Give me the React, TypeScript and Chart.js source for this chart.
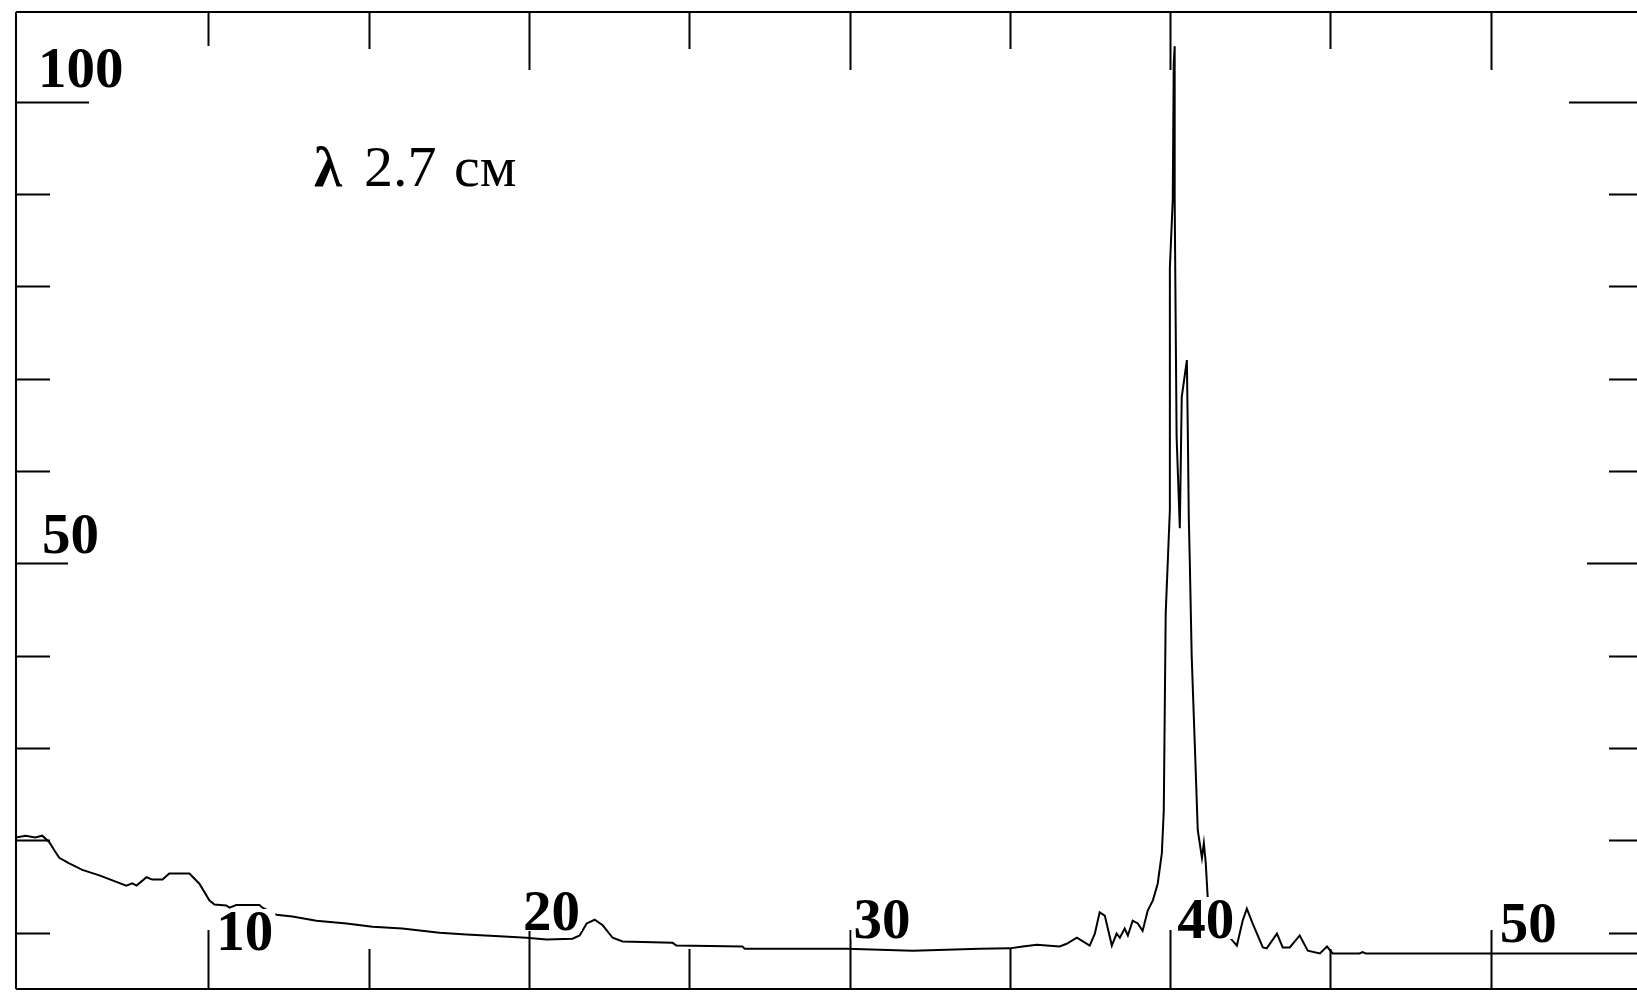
import React, { useEffect, useRef } from "react";
import { Chart, registerables } from "chart.js";

Chart.register(...registerables);

// ---- data ----
const xValues = [
  4.0, 4.3, 4.6, 4.82, 5.04, 5.2, 5.35, 5.66, 6.07, 6.6, 7.13, 7.44, 7.63, 7.76, 8.07, 8.25, 8.57, 8.78, 9.41, 9.72,
  10.03, 10.19, 10.56, 10.66, 10.87, 11.59, 11.69, 12.12, 12.62, 13.37, 14.31, 15.12, 16.05, 17.21, 18.05, 19.08,
  19.92, 20.55, 21.36, 21.58, 21.8, 22.05, 22.3, 22.61, 22.92, 24.48, 24.6, 26.66, 26.73, 29.91, 31.97, 34.06,
  35.0, 35.4, 35.84, 36.55, 36.77, 37.09, 37.49, 37.65, 37.8, 37.96, 38.18, 38.33, 38.43, 38.58, 38.68, 38.83,
  38.99, 39.14, 39.3, 39.46, 39.61, 39.74, 39.8, 39.86, 39.99, 39.99, 40.08, 40.11, 40.14, 40.14, 40.2, 40.3,
  40.36, 40.52, 40.55, 40.58, 40.61, 40.67, 40.77, 40.86, 40.99, 41.05, 41.11, 41.17, 41.6, 42.08, 42.26, 42.39,
  42.57, 42.89, 43.01, 43.33, 43.51, 43.73, 44.04, 44.29, 44.67, 44.89, 45.07, 45.91, 46.0, 46.1, 54.6,
];
const yValues = [
  20.3, 20.5, 20.3, 20.5, 19.8, 18.9, 18.1, 17.5, 16.8, 16.2, 15.5, 15.1, 15.35, 15.1, 16.0, 15.75, 15.75, 16.4, 16.4, 15.3,
  13.5, 13.05, 12.95, 12.7, 13.0, 13.0, 12.7, 11.95, 11.75, 11.3, 11.0, 10.65, 10.45, 10.0, 9.8, 9.6,
  9.45, 9.25, 9.35, 9.7, 11.0, 11.4, 10.8, 9.45, 9.05, 8.9, 8.6, 8.5, 8.25, 8.25, 8.05, 8.25,
  8.3, 8.5, 8.7, 8.5, 8.8, 9.45, 8.6, 9.9, 12.2, 11.85, 8.6, 9.9, 9.45, 10.45, 9.7, 11.3,
  11.0, 10.2, 12.4, 13.5, 15.3, 18.6, 23.2, 44.6, 55.8, 82.0, 89.4, 104.0, 106.0, 89.4, 63.7, 53.8,
  68.0, 72.0, 64.1, 55.0, 50.4, 40.0, 30.1, 21.1, 18.1, 19.7, 17.5, 13.8, 10.5, 8.6, 11.3, 12.6,
  11.0, 8.4, 8.3, 9.9, 8.4, 8.4, 9.7, 8.05, 7.75, 8.5, 7.75, 7.75, 7.9, 7.75, 7.75,
];

const xTickValues = [10, 15, 20, 25, 30, 35, 40, 45, 50];
const xLabelValues = [10, 20, 30, 40, 50];
const yTickValues = [10, 20, 30, 40, 50, 60, 70, 80, 90, 100];
const yLabelValues = [50, 100];
const noteSymbol = "λ";
const noteValue = "2.7";
const noteUnit = "см";

const X_MIN = 4;
const X_MAX = 54.56;
const Y_MIN = 3.9;
const Y_MAX = 109.7;

// ---- layout / style (not data) ----
const FONT_BOLD = "bold 57px 'Liberation Serif', 'DejaVu Serif', serif";
const FONT_REG = "58px 'Liberation Serif', 'DejaVu Serif', serif";
const X_LABEL_NUDGE: Record<number, [number, number]> = {
  10: [8, -39],
  20: [-6, -59],
  30: [4, -51],
  40: [7, -51],
  50: [9, -47],
};
const Y_LABEL_NUDGE: Record<number, [number, number]> = {
  100: [22, -14.7],
  50: [26, -10.7],
};

const framePlugin = {
  id: "frame",
  beforeDraw(chart: any) {
    const ctx = chart.ctx;
    ctx.save();
    ctx.fillStyle = "#fff";
    ctx.fillRect(0, 0, chart.width, chart.height);
    ctx.restore();
  },
  afterDatasetsDraw(chart: any) {
    const ctx: CanvasRenderingContext2D = chart.ctx;
    const a = chart.chartArea;
    const xs = chart.scales.x;
    const ys = chart.scales.y;
    ctx.save();
    ctx.strokeStyle = "#000";
    ctx.lineWidth = 2;
    ctx.lineCap = "butt";

    // frame
    ctx.beginPath();
    ctx.moveTo(a.left, a.top);
    ctx.lineTo(a.right, a.top);
    ctx.moveTo(a.left, a.top);
    ctx.lineTo(a.left, a.bottom);
    ctx.moveTo(a.left, a.bottom);
    ctx.lineTo(a.right, a.bottom);
    ctx.stroke();

    // x ticks (bottom and top, pointing inward)
    ctx.beginPath();
    for (const v of xTickValues) {
      const px = Math.round(xs.getPixelForValue(v)) + 0.5;
      const major = v % 10 === 0;
      const lb = major ? 59 : 40;
      const lt = major ? (v === 10 ? 34 : 58) : 37;
      ctx.moveTo(px, a.bottom);
      ctx.lineTo(px, a.bottom - lb);
      ctx.moveTo(px, a.top);
      ctx.lineTo(px, a.top + lt);
    }
    // y ticks (left and right, pointing inward)
    for (const v of yTickValues) {
      const py = Math.round(ys.getPixelForValue(v)) + 0.5;
      const ll = v === 100 ? 73 : v === 50 ? 52 : 34;
      const lr = v === 100 ? 68 : v === 50 ? 50 : 28;
      ctx.moveTo(a.left, py);
      ctx.lineTo(a.left + ll, py);
      ctx.moveTo(a.right, py);
      ctx.lineTo(a.right - lr, py);
    }
    ctx.stroke();

    // labels with white backing
    ctx.font = FONT_BOLD;
    ctx.textBaseline = "alphabetic";
    ctx.textAlign = "left";
    const drawLabel = (text: string, x: number, y: number) => {
      const m = ctx.measureText(text);
      ctx.fillStyle = "#fff";
      ctx.fillRect(x - 2, y - 41, m.width + 4, 42);
      ctx.fillStyle = "#000";
      ctx.fillText(text, x, y);
    };
    for (const v of xLabelValues) {
      const [dx, dy] = X_LABEL_NUDGE[v] || [6, -51];
      drawLabel(String(v), xs.getPixelForValue(v) + dx, a.bottom + dy);
    }
    for (const v of yLabelValues) {
      const [dx, dy] = Y_LABEL_NUDGE[v] || [22, -10];
      drawLabel(String(v), a.left + dx, ys.getPixelForValue(v) + dy);
    }

    // annotation "λ 2.7 см"
    const ny = a.top + 174;
    ctx.fillStyle = "#000";
    ctx.font = FONT_BOLD;
    ctx.fillText(noteSymbol, a.left + 298, ny);
    ctx.font = FONT_REG;
    ctx.fillText(noteValue, a.left + 348, ny);
    ctx.fillText(noteUnit, a.left + 438, ny);

    ctx.restore();
  },
};

export default function App() {
  const ref = useRef<HTMLCanvasElement | null>(null);

  useEffect(() => {
    if (!ref.current) return;
    const chart = new Chart(ref.current, {
      type: "scatter",
      data: {
        datasets: [
          {
            data: xValues.map((x, i) => ({ x, y: yValues[i] })),
            showLine: true,
            borderColor: "#000",
            backgroundColor: "#000",
            borderWidth: 2,
            pointRadius: 0,
            tension: 0,
            fill: false,
          },
        ],
      },
      options: {
        animation: false,
        responsive: false,
        devicePixelRatio: 1,
        events: [],
        layout: { padding: { left: 16, top: 12, right: 0, bottom: 3 } },
        plugins: {
          legend: { display: false },
          tooltip: { enabled: false },
        },
        scales: {
          x: { type: "linear", min: X_MIN, max: X_MAX, display: false },
          y: { type: "linear", min: Y_MIN, max: Y_MAX, display: false },
        },
      },
      plugins: [framePlugin],
    } as any);
    return () => chart.destroy();
  }, []);

  return (
    <div style={{ position: "fixed", left: 0, top: 0, width: 1637, height: 992, background: "#fff" }}>
      <canvas ref={ref} width={1637} height={992} style={{ display: "block" }} />
    </div>
  );
}
